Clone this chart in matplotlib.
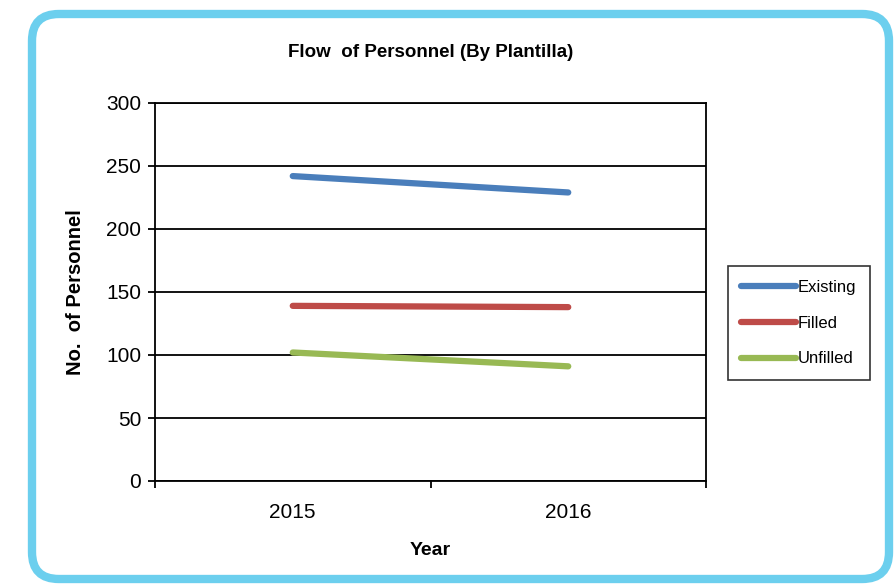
import matplotlib.pyplot as plt
from matplotlib.patches import FancyBboxPatch

plt.rcParams['font.family'] = ['Liberation Sans', 'DejaVu Sans']

# Data
years = ['2015', '2016']
existing = [242, 229]
filled = [139, 138]
unfilled = [102, 91]

fig = plt.figure(figsize=(8.95, 5.85), dpi=100)

# Rounded light blue frame around the whole chart
W, H = 895, 585
frame = FancyBboxPatch((32 / W, 1 - 579 / H), (889 - 32) / W, (579 - 14) / H,
                       boxstyle='round,pad=0,rounding_size=0.03',
                       transform=fig.transFigure, facecolor='white',
                       edgecolor='#6ccfee', linewidth=6, zorder=-5,
                       mutation_aspect=W / H)
fig.patches.append(frame)

ax = fig.add_axes([155 / W, 1 - 481 / H, (706 - 155) / W, (481 - 103) / H])
ax.set_facecolor('none')
ax.set_zorder(2)

x = list(range(len(years)))
ax.plot(x, existing, color='#4a7ebb', lw=4.5, solid_capstyle='round', label='Existing', zorder=3)
ax.plot(x, filled, color='#be4b48', lw=4.5, solid_capstyle='round', label='Filled', zorder=3)
ax.plot(x, unfilled, color='#98b954', lw=4.5, solid_capstyle='round', label='Unfilled', zorder=3)

ax.set_xlim(-0.5, len(years) - 0.5)
ax.set_ylim(0, 300)
ax.set_yticks(range(0, 301, 50))
ax.yaxis.grid(True, color='black', lw=1.3)
ax.set_axisbelow(True)

# category boundaries as major ticks, names as minor labels
ax.set_xticks([-0.5, 0.5, 1.5])
ax.set_xticklabels([])
ax.set_xticks(x, minor=True)
ax.set_xticklabels(years, minor=True)
ax.tick_params(axis='x', which='minor', length=0, pad=16, labelsize=15)
ax.tick_params(axis='x', which='major', direction='out', length=5, width=1.3)
ax.tick_params(axis='y', direction='out', length=5, width=1.3, labelsize=15, pad=5)

for s in ax.spines.values():
    s.set_linewidth(1.3)
    s.set_color('black')

ax.set_title('Flow  of Personnel (By Plantilla)', fontsize=13.5, fontweight='bold', pad=33)
ax.set_xlabel('Year', fontsize=14, fontweight='bold', labelpad=14)
ax.set_ylabel('No.  of Personnel', fontsize=14.5, fontweight='bold', labelpad=15)

leg = ax.legend(loc='center left', bbox_to_anchor=(728 / W, 1 - 323 / H),
                bbox_transform=fig.transFigure, frameon=True, fancybox=False,
                edgecolor='black', fontsize=12, handlelength=3.3,
                handletextpad=0.1, labelspacing=1.25, borderpad=0.8,
                borderaxespad=0)
leg.get_frame().set_linewidth(1.2)

fig.savefig('out.png', dpi=100)
